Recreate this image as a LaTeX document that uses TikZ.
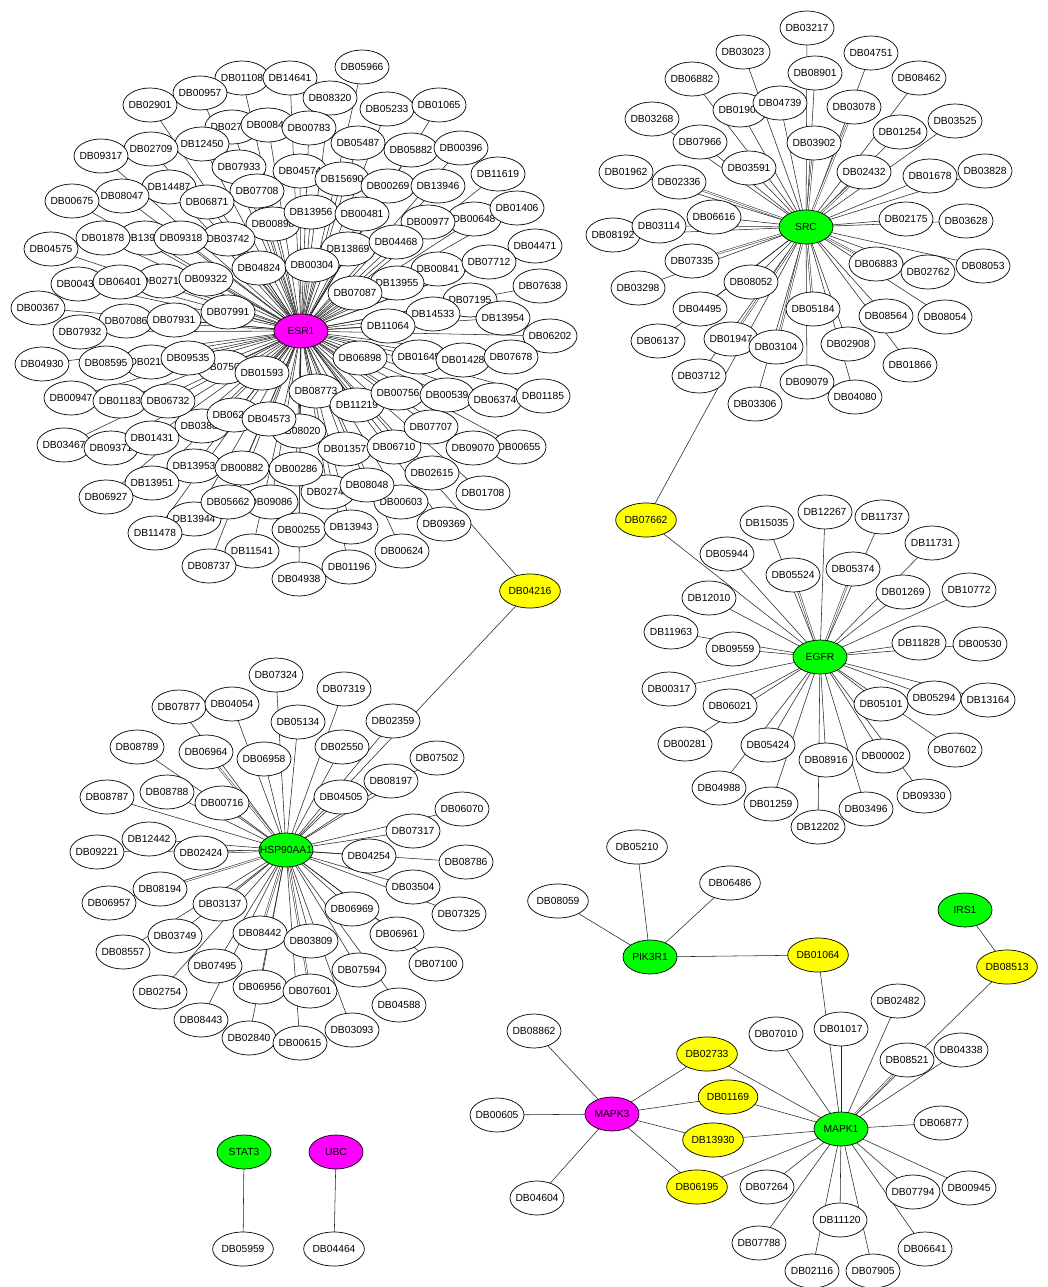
\documentclass[tikz,border=0pt]{standalone}
\usepackage{fontspec}
\setmainfont{Liberation Sans}
\usetikzlibrary{shapes.geometric}
\pgfdeclarelayer{back}
\pgfdeclarelayer{edges}
\pgfsetlayers{back,edges,main}

\definecolor{hubmagenta}{RGB}{255,0,255}
\definecolor{hubgreen}{RGB}{0,255,0}
\definecolor{drugyellow}{RGB}{255,255,0}

\tikzset{
  drug/.style={ellipse, draw=black, line width=0.7pt, fill=white, inner sep=0pt,
    minimum width=54pt, minimum height=34pt, text=black,
    font=\fontsize{10.3}{12}\selectfont},
  hubm/.style={drug, fill=hubmagenta},
  hubg/.style={drug, fill=hubgreen},
  bridge/.style={drug, fill=drugyellow},
  link/.style={draw=black!85, line width=0.55pt},
  twolink/.style={draw=black!85, line width=0.5pt, double=white, double distance=1.1pt}
}

% target clusters: name/x/y (pixel-like units, y downwards)
\def\esrlist{DB02758/232/127, DB05233/387/109, DB13869/348/249, DB13950/145/238,
 DB00435/78/284, DB02710/163/281, DB02187/151/362, DB07501/224/367, DB03880/202/426,
 DB01645/419/357, DB07195/470/300, DB13954/503/318, DB02746/328/492, DB09086/271/502,
 DB13944/194/519, DB00648/474/219, DB00898/273/224, DB03742/228/239, DB08020/299/431,
 DB00603/401/502, DB00655/519/447, DB00843/268/125, DB06204/234/415,
 DB05966/362/67, DB01108/242/78, DB14641/290/78, DB08320/330/98, DB00957/200/93,
 DB02901/150/105, DB01065/439/105, DB00783/309/128, DB12450/202/144, DB02709/151/149,
 DB09317/101/156, DB05487/358/143, DB05882/411/150, DB00396/461/148, DB07933/239/167,
 DB04574/300/171, DB15690/342/179, DB00269/388/186, DB13946/438/186, DB11619/498/174,
 DB14487/169/187, DB08047/122/196, DB00675/72/201, DB07708/257/191, DB06871/207/202,
 DB13956/311/212, DB00481/362/214, DB00977/428/222, DB01406/517/208, DB01878/103/238,
 DB09318/181/238, DB04575/51/249, DB04824/259/268, DB00304/312/265, DB04468/396/242,
 DB04471/535/246, DB06401/120/282, DB09322/206/279, DB00841/438/269, DB07712/489/262,
 DB07638/540/286, DB13955/397/283, DB07087/355/293, DB00367/38/308, DB07086/126/321,
 DB07931/174/320, DB07991/228/312, DB07932/80/332, DB14533/433/314, DB11064/388/326,
 DB06202/550/336, DB04930/42/364, DB08595/106/363, DB09535/188/358, DB01593/262/373,
 DB06898/360/358, DB01428/463/360, DB07678/511/357, DB00947/71/398, DB01183/120/401,
 DB06732/168/401, DB08773/316/391, DB11219/357/405, DB00756/398/393, DB00539/447/395,
 DB06374/495/400, DB01185/543/396, DB04573/269/419, DB03467/64/445, DB09371/111/448,
 DB01431/152/438, DB13953/194/466, DB00882/242/468, DB13951/152/483, DB06927/106/497,
 DB05662/228/502, DB11478/155/533, DB11541/252/551, DB08737/209/566, DB04938/299/579,
 DB00255/299/530, DB13943/351/527, DB01196/349/567, DB00624/402/551, DB09369/444/524,
 DB01708/483/493, DB08048/367/485, DB00286/296/469, DB01357/345/449, DB06710/394/447,
 DB02615/432/473, DB09070/473/448, DB07707/431/427}

\def\srclist{DB03217/807/28, DB03023/743/52, DB04751/871/53, DB08901/815/73,
 DB06882/692/79, DB08462/919/78, DB01903/740/110, DB04739/780/103, DB03078/854/107,
 DB03268/652/119, DB01254/900/132, DB03525/955/121, DB07966/700/142, DB03902/814/143,
 DB03591/749/168, DB02432/864/172, DB01962/626/172, DB02336/679/182, DB01678/930/176,
 DB03828/985/171, DB06616/714/217, DB02175/906/219, DB03628/966/221, DB08192/613/235,
 DB03114/659/226, DB07335/692/261, DB06883/876/264, DB02762/928/272, DB08053/983/266,
 DB03298/638/288, DB08052/751/282, DB04495/700/309, DB05184/813/309, DB08564/886/316,
 DB08054/945/317, DB06137/658/341, DB01947/731/339, DB03104/776/347, DB02908/848/344,
 DB01866/910/365, DB03712/699/376, DB09079/807/382, DB04080/855/397, DB03306/755/404}

\def\egfrlist{DB15035/767/523, DB12267/825/512, DB11737/882/517, DB05944/727/554,
 DB05524/793/575, DB05374/853/569, DB11731/932/543, DB12010/709/598, DB01269/903/592,
 DB10772/969/590, DB11963/671/632, DB09559/733/649, DB11828/919/643, DB00530/980/644,
 DB00317/669/689, DB06021/730/706, DB05294/934/698, DB13164/988/700, DB05101/881/704,
 DB00281/685/744, DB05424/768/745, DB00002/883/756, DB07602/955/750, DB08916/826/760,
 DB04988/719/788, DB09330/924/796, DB01259/771/804, DB03496/866/809, DB12202/818/827}

\def\hsplist{DB07324/276/675, DB07877/179/707, DB04054/232/704, DB05134/298/722,
 DB08789/137/747, DB06964/206/752, DB06958/264/759, DB08787/107/797, DB08788/167/792,
 DB00716/222/803, DB12442/149/839, DB09221/97/852, DB02424/201/853, DB08194/160/889,
 DB06957/109/903, DB03137/220/904, DB03749/175/936, DB08442/260/933, DB08557/123/952,
 DB07495/215/966, DB06956/260/987, DB02754/160/992, DB08443/201/1020, DB02840/249/1038,
 DB07319/344/689, DB02359/393/721, DB02550/342/747, DB07502/437/758, DB08197/391/781,
 DB04505/341/797, DB06070/462/809, DB07317/413/831, DB04254/369/856, DB08786/466/862,
 DB03504/413/887, DB07325/459/914, DB06969/352/909, DB06961/397/934, DB03809/311/941,
 DB07100/436/964, DB07594/359/970, DB07601/310/991, DB04588/399/1005, DB03093/352/1030,
 DB00615/300/1043}

\def\mapklist{DB02482/898/1001, DB07010/776/1034, DB04338/961/1050, DB08521/907/1060,
 DB06877/941/1123, DB00945/969/1188, DB07794/913/1192, DB06641/925/1249,
 DB07905/873/1271, DB02116/812/1271, DB11120/840/1220, DB07788/759/1243,
 DB07264/767/1187, DB01017/841/1029}

\def\mapkthreelist{DB08862/534/1031, DB00605/497/1115, DB04604/537/1198}

\begin{document}
\begin{tikzpicture}[x=1pt,y=-1pt]
\useasboundingbox (0,0) rectangle (1047,1287);
\begin{pgfonlayer}{back}
  \fill[white] (0,0) rectangle (1047,1287);
\end{pgfonlayer}

% hubs
\node[hubm] (ESR1) at (301,331) {ESR1};
\node[hubg] (SRC) at (806,227) {SRC};
\node[hubg] (EGFR) at (820,657) {EGFR};
\node[hubg] (HSP90AA1) at (286,850) {\makebox[0pt]{HSP90AA1}};
\node[hubg] (PIK3R1) at (650,957) {PIK3R1};
\node[hubg] (IRS1) at (965,910) {IRS1};
\node[hubg] (MAPK1) at (841,1129) {MAPK1};
\node[hubm] (MAPK3) at (612,1114) {MAPK3};
\node[hubg] (STAT3) at (244,1152) {STAT3};
\node[hubm] (UBC) at (336,1152) {UBC};

% drugs shared by two targets
\node[bridge] (DB04216) at (530,591) {DB04216};
\node[bridge] (DB07662) at (646,520) {DB07662};
\node[bridge] (DB01064) at (818,955) {DB01064};
\node[bridge] (DB08513) at (1007,967) {DB08513};
\node[bridge] (DB02733) at (707,1054) {DB02733};
\node[bridge] (DB01169) at (728,1097) {DB01169};
\node[bridge] (DB13930) at (713,1140) {DB13930};
\node[bridge] (DB06195) at (697,1187) {DB06195};

% drugs of a single target
\foreach \n/\x/\y in \esrlist {\node[drug] (\n) at (\x,\y) {\makebox[0pt]{\n}};}
\foreach \n/\x/\y in \srclist {\node[drug] (\n) at (\x,\y) {\makebox[0pt]{\n}};}
\foreach \n/\x/\y in \egfrlist {\node[drug] (\n) at (\x,\y) {\makebox[0pt]{\n}};}
\foreach \n/\x/\y in \hsplist {\node[drug] (\n) at (\x,\y) {\makebox[0pt]{\n}};}
\foreach \n/\x/\y in \mapklist {\node[drug] (\n) at (\x,\y) {\makebox[0pt]{\n}};}
\foreach \n/\x/\y in \mapkthreelist {\node[drug] (\n) at (\x,\y) {\makebox[0pt]{\n}};}
\node[drug] (DB05210) at (637,847) {DB05210};
\node[drug] (DB06486) at (730,883) {DB06486};
\node[drug] (DB08059) at (558,901) {DB08059};
\node[drug] (DB05959) at (243,1249) {DB05959};
\node[drug] (DB04464) at (334,1249) {DB04464};

% interactions
\begin{pgfonlayer}{edges}
  \foreach \n/\x/\y in \esrlist {\draw[link] (ESR1.center) -- (\n.center);}
  \foreach \n/\x/\y in \srclist {\draw[link] (SRC.center) -- (\n.center);}
  \foreach \n/\x/\y in \egfrlist {\draw[link] (EGFR.center) -- (\n.center);}
  \foreach \n/\x/\y in \hsplist {\draw[link] (HSP90AA1.center) -- (\n.center);}
  \foreach \n/\x/\y in \mapklist {\draw[link] (MAPK1.center) -- (\n.center);}
  \foreach \n/\x/\y in \mapkthreelist {\draw[link] (MAPK3.center) -- (\n.center);}
  % interactions reported twice
  \foreach \n in {DB03902, DB03078, DB02336, DB07335, DB01947, DB03104, DB05184,
                  DB06883, DB02432}
    {\draw[twolink] (SRC) -- (\n);}
  \foreach \n in {DB05524, DB05374}
    {\draw[twolink] (EGFR) -- (\n);}
  \foreach \n in {DB08194, DB02424, DB06964, DB08442, DB07601}
    {\draw[twolink] (HSP90AA1) -- (\n);}
  \draw[twolink] (MAPK1) -- (DB08521);
  \draw[link] (ESR1.center) -- (DB04216.center) -- (HSP90AA1.center);
  \draw[link] (SRC.center) -- (DB07662.center) -- (EGFR.center);
  \foreach \n in {DB05210, DB06486, DB08059, DB01064}
    {\draw[link] (PIK3R1.center) -- (\n.center);}
  \draw[link] (DB01064.center) -- (MAPK1.center);
  \draw[link] (IRS1.center) -- (DB08513.center) -- (MAPK1.center);
  \foreach \n in {DB02733, DB01169, DB13930, DB06195}
    {\draw[link] (MAPK3.center) -- (\n.center) -- (MAPK1.center);}
  \draw[link] (STAT3.center) -- (DB05959.center);
  \draw[link] (UBC.center) -- (DB04464.center);
\end{pgfonlayer}
\end{tikzpicture}
\end{document}
